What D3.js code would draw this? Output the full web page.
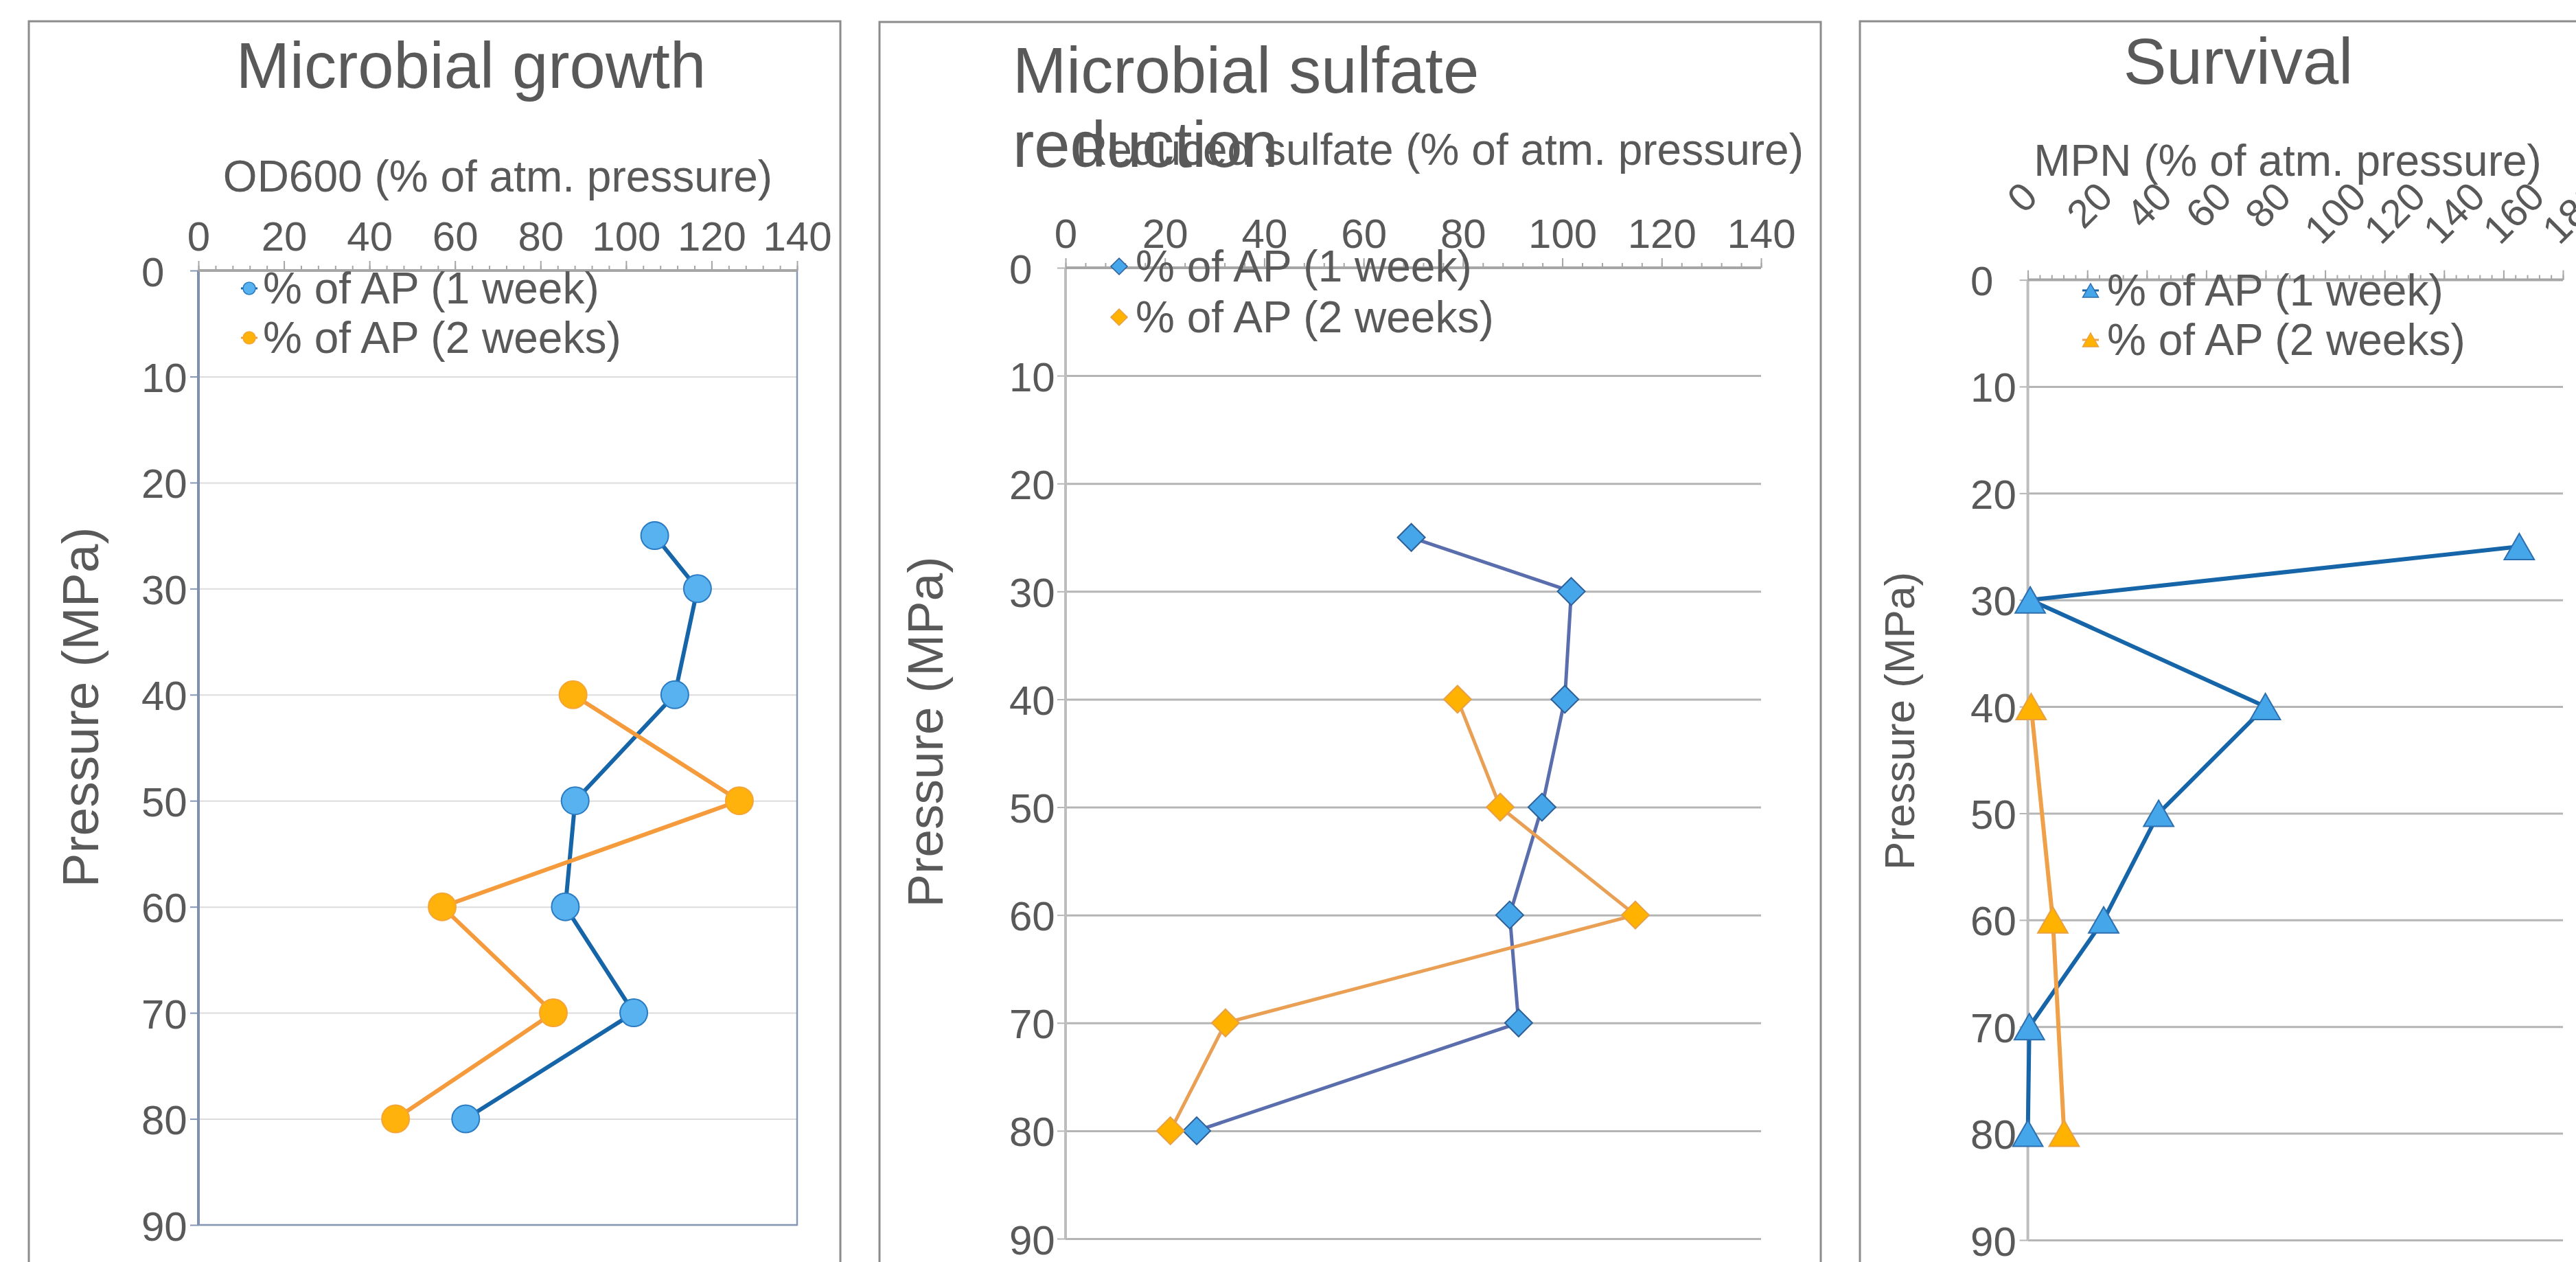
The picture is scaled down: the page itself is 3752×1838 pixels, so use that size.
<!DOCTYPE html>
<html><head><meta charset="utf-8">
<script src="https://cdn.jsdelivr.net/npm/d3@7"></script>
<style>
body{margin:0;background:#fff}
svg{display:block}
text{font-family:"Liberation Sans", Arial, sans-serif;}
</style>
</head><body>
<svg id="c" width="3752" height="1838"></svg>
<script>
// ---------------- DATA ----------------
const pressure1wk = [25, 30, 40, 50, 60, 70, 80];
const pressure2wk = [40, 50, 60, 70, 80];
const pressureSurvival2wk = [40, 60, 80];

const growth1wk = [106.7, 116.7, 111.4, 88.1, 85.8, 101.8, 62.5];
const growth2wk = [87.6, 126.5, 57.0, 83.0, 46.1];

const sulfate1wk = [69.6, 101.8, 100.5, 95.9, 89.4, 91.2, 26.4];
const sulfate2wk = [78.9, 87.5, 114.7, 32.2, 21.1];

const survival1wk = [165.3, 0.8, 79.9, 44.0, 25.5, 0.5, 0.0];
const survival2wk = [1.1, 8.4, 12.2];

const yTicks = [0, 10, 20, 30, 40, 50, 60, 70, 80, 90];
const xTicks140 = [0, 20, 40, 60, 80, 100, 120, 140];
const xTicks180 = [0, 20, 40, 60, 80, 100, 120, 140, 160, 180];

const legendLabels = ["% of AP (1 week)", "% of AP (2 weeks)"];
const panelTitles = [["Microbial growth"], ["Microbial sulfate", "reduction"], ["Survival"]];
const xTitles = ["OD600 (% of atm. pressure)", "Reduced sulfate (% of atm. pressure)", "MPN (% of atm. pressure)"];
const yTitle = "Pressure (MPa)";

// ---------------- DRAWING ----------------
const svg = d3.select("#c");
const TXT = "#595959";
const FONT = '"Liberation Sans", Arial, sans-serif';

function zip(ps, vs) { return ps.map((p, i) => ({p: p, v: vs[i]})); }

function markerPath(shape, s) {
  if (shape === "circle") return d3.symbol(d3.symbolCircle, Math.PI * s * s)();
  if (shape === "diamond") return `M0,${-s}L${s},0L0,${s}L${-s},0Z`;
  const w = s * 1.15;
  return `M0,${-s}L${w},${s}L${-w},${s}Z`;
}

function drawPanel(cfg) {
  const g = svg.append("g");
  g.append("rect").attr("x", cfg.frame[0]).attr("y", cfg.frame[1])
    .attr("width", cfg.frame[2] - cfg.frame[0]).attr("height", 2000)
    .attr("fill", "none").attr("stroke", "#8c8c8c").attr("stroke-width", 3);

  const x = d3.scaleLinear().domain([0, cfg.xmax]).range([cfg.left, cfg.right]);
  const y = d3.scaleLinear().domain([0, 90]).range([cfg.top, cfg.bottom]);

  // gridlines
  g.append("g").attr("transform", `translate(${cfg.left},0)`)
    .call(d3.axisLeft(y).tickValues(yTicks.slice(1)).tickSize(-(cfg.right - cfg.left)).tickFormat(""))
    .call(a => a.select(".domain").remove())
    .call(a => a.selectAll("line").attr("stroke", cfg.gridColor).attr("stroke-width", cfg.gridWidth));

  if (cfg.border) {
    g.append("rect").attr("x", cfg.left).attr("y", cfg.top)
      .attr("width", cfg.right - cfg.left).attr("height", cfg.bottom - cfg.top)
      .attr("fill", "none").attr("stroke", cfg.border).attr("stroke-width", 2.5);
  }

  // y axis
  g.append("g").attr("transform", `translate(${cfg.left},0)`)
    .call(d3.axisLeft(y).tickValues(yTicks).tickSize(12).tickFormat(d3.format("d")))
    .call(a => a.select(".domain").remove())
    .call(a => a.attr("font-size", null).attr("font-family", null).attr("text-anchor", null))
    .call(a => a.selectAll("line").attr("stroke", cfg.axisColor).attr("stroke-width", 2))
    .call(a => a.selectAll("text").attr("text-anchor", "start")
      .attr("x", cfg.yLabelLeft - cfg.left).attr("dy", null).attr("y", 22)
      .attr("fill", TXT).style("font-size", "60px").style("font-family", FONT));
  g.append("line").attr("x1", cfg.left).attr("x2", cfg.left).attr("y1", cfg.top).attr("y2", cfg.bottom)
    .attr("stroke", cfg.yAxisColor).attr("stroke-width", 4);

  // top x axis
  const minor = d3.range(0, cfg.xmax + 0.001, 4);
  g.append("g").attr("transform", `translate(0,${cfg.top})`)
    .call(d3.axisTop(x).tickValues(minor).tickSize(7).tickFormat(""))
    .call(a => a.select(".domain").remove())
    .call(a => a.selectAll("line").attr("stroke", "#a6a6a6").attr("stroke-width", 2));
  const major = g.append("g").attr("transform", `translate(0,${cfg.top})`)
    .call(d3.axisTop(x).tickValues(cfg.xTicks).tickSize(14).tickFormat(d3.format("d")))
    .call(a => a.select(".domain").remove())
    .call(a => a.attr("font-size", null).attr("font-family", null).attr("text-anchor", null))
    .call(a => a.selectAll("line").attr("stroke", "#a6a6a6").attr("stroke-width", 2));
  major.selectAll("text").attr("fill", TXT).style("font-family", FONT);
  if (!cfg.rotated) {
    major.selectAll("text").attr("text-anchor", "middle").attr("dy", null)
      .attr("y", cfg.xLabelBase - cfg.top).style("font-size", "60px");
  } else {
    const fs = 58;
    major.selectAll("text").attr("text-anchor", "start").attr("dy", null).attr("y", 0)
      .style("font-size", fs + "px")
      .each(function () {
        const w = this.getComputedTextLength();
        const ay = (cfg.rotTop - cfg.top) + 0.707 * w;
        d3.select(this).attr("transform", `translate(-6,${ay}) rotate(-45)`);
      });
  }
  g.append("line").attr("x1", cfg.left).attr("x2", cfg.right).attr("y1", cfg.top).attr("y2", cfg.top)
    .attr("stroke", "#a6a6a6").attr("stroke-width", 4);

  // series
  const line = d3.line().x(d => x(d.v)).y(d => y(d.p));
  cfg.series.forEach(s => {
    g.append("path").datum(s.data).attr("d", line).attr("fill", "none")
      .attr("stroke", s.line).attr("stroke-width", cfg.lineWidth).attr("stroke-linejoin", "round");
    g.selectAll(null).data(s.data).join("path")
      .attr("transform", d => `translate(${x(d.v)},${y(d.p)})`)
      .attr("d", markerPath(cfg.shape, cfg.markerSize))
      .attr("fill", s.fill).attr("stroke", s.stroke).attr("stroke-width", 2);
  });

  // legend
  cfg.series.forEach((s, i) => {
    const ly = cfg.legend.rows[i];
    g.append("line").attr("x1", cfg.legend.mx - 12).attr("x2", cfg.legend.mx + 12)
      .attr("y1", ly).attr("y2", ly).attr("stroke", s.line).attr("stroke-width", 3);
    g.append("path").attr("transform", `translate(${cfg.legend.mx},${ly})`)
      .attr("d", markerPath(cfg.shape, cfg.legendMarker))
      .attr("fill", s.fill).attr("stroke", s.stroke).attr("stroke-width", 1.5);
    g.append("text").attr("x", cfg.legend.tx).attr("y", ly + 22)
      .attr("fill", TXT).style("font-size", "64px").text(legendLabels[i]);
  });

  // titles
  const t = g.append("text").attr("fill", TXT).style("font-size", "94px")
    .attr("text-anchor", cfg.title.anchor);
  cfg.title.lines.forEach((ln, i) => {
    t.append("tspan").attr("x", cfg.title.x).attr("y", cfg.title.y + i * 108).text(ln);
  });
  g.append("text").attr("fill", TXT).style("font-size", "64px")
    .attr("text-anchor", cfg.xTitle.anchor).attr("x", cfg.xTitle.x).attr("y", cfg.xTitle.y)
    .text(cfg.xTitle.text);
  g.append("text").attr("fill", TXT).style("font-size", cfg.yTitle.size + "px")
    .attr("text-anchor", "middle")
    .attr("transform", `translate(${cfg.yTitle.x},${cfg.yTitle.y}) rotate(-90)`)
    .text(yTitle);
}

drawPanel({
  frame: [42, 31, 1224],
  left: 289, right: 1161, top: 394, bottom: 1784, xmax: 140, xTicks: xTicks140,
  gridColor: "#dcdcdc", gridWidth: 2, border: "#8697b5", axisColor: "#8697b5", yAxisColor: "#7f90b0",
  yLabelLeft: 206, xLabelBase: 365,
  shape: "circle", markerSize: 20, legendMarker: 9, lineWidth: 6,
  series: [
    {data: zip(pressure1wk, growth1wk), line: "#1565a8", fill: "#58b2ef", stroke: "#2b7bc2"},
    {data: zip(pressure2wk, growth2wk), line: "#f59b3c", fill: "#ffb20c", stroke: "#f6a535"}
  ],
  legend: {mx: 363, tx: 383, rows: [420, 492]},
  title: {lines: panelTitles[0], x: 686, y: 128, anchor: "middle"},
  xTitle: {text: xTitles[0], x: 725, y: 279, anchor: "middle"},
  yTitle: {x: 143, y: 1030, size: 75}
});

drawPanel({
  frame: [1281, 32, 2652],
  left: 1552, right: 2565, top: 390, bottom: 1804, xmax: 140, xTicks: xTicks140,
  gridColor: "#b5b5b5", gridWidth: 3, border: null, axisColor: "#b5b5b5", yAxisColor: "#bdbdbd",
  yLabelLeft: 1470, xLabelBase: 361,
  shape: "diamond", markerSize: 20, legendMarker: 12, lineWidth: 5,
  series: [
    {data: zip(pressure1wk, sulfate1wk), line: "#5a6ead", fill: "#46a6ea", stroke: "#2d5f98"},
    {data: zip(pressure2wk, sulfate2wk), line: "#e9a055", fill: "#ffb300", stroke: "#e8a048"}
  ],
  legend: {mx: 1630, tx: 1654, rows: [388, 462]},
  title: {lines: panelTitles[1], x: 1475, y: 135, anchor: "start"},
  xTitle: {text: xTitles[1], x: 2627, y: 240, anchor: "end"},
  yTitle: {x: 1373, y: 1066, size: 73}
});

drawPanel({
  frame: [2709, 31, 3900],
  left: 2953.6, right: 3733, top: 407.6, bottom: 1806, xmax: 180, xTicks: xTicks180,
  gridColor: "#b5b5b5", gridWidth: 3, border: null, axisColor: "#b5b5b5", yAxisColor: "#bdbdbd",
  yLabelLeft: 2870, rotated: true, rotTop: 290,
  shape: "triangle", markerSize: 19, legendMarker: 10, lineWidth: 6,
  series: [
    {data: zip(pressure1wk, survival1wk), line: "#1565a8", fill: "#46a6ea", stroke: "#2c6fb0"},
    {data: zip(pressureSurvival2wk, survival2wk), line: "#f0a048", fill: "#ffb300", stroke: "#eba040"}
  ],
  legend: {mx: 3045, tx: 3069, rows: [423, 495]},
  title: {lines: panelTitles[2], x: 3260, y: 122, anchor: "middle"},
  xTitle: {text: xTitles[2], x: 3332, y: 256, anchor: "middle"},
  yTitle: {x: 2788, y: 1050, size: 62}
});
</script>
</body></html>
